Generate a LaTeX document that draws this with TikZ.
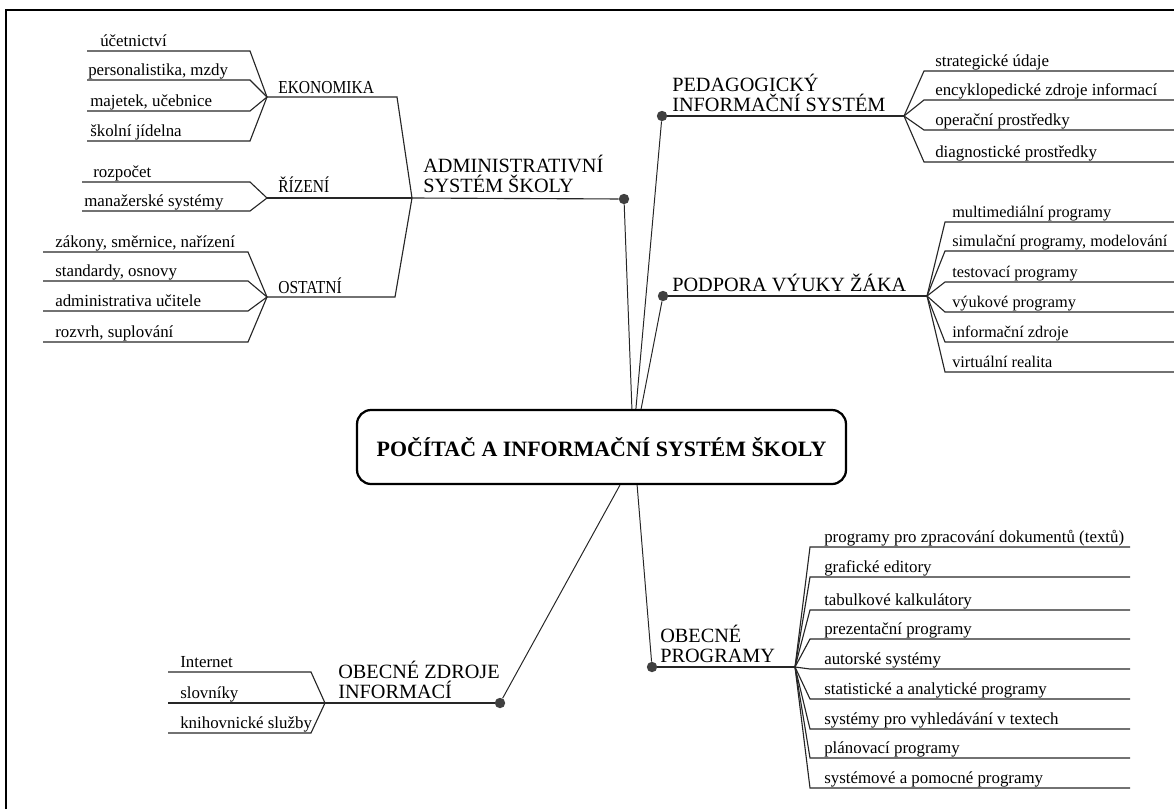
\documentclass[tikz,border=0pt]{standalone}
\usepackage{fontspec}
\setmainfont{Liberation Serif}
\newfontfamily\narrowfont[FakeStretch=0.85]{Liberation Serif}

\begin{document}
\begin{tikzpicture}[x=0.025cm, y=-0.025cm,
	twig/.style={line width=0.8pt, black!85},
	trunk/.style={line width=0.7pt, black!85},
	leaf/.style={anchor=base west, inner sep=0pt, font=\fontsize{12}{13}\selectfont},
	grouplabel/.style={anchor=base west, inner sep=0pt, font=\narrowfont\fontsize{13}{14}\selectfont},
	branchlabel/.style={anchor=south west, inner sep=0pt, align=left, font=\fontsize{14.4}{14.2}\selectfont},
	knot/.style={circle, fill=black!75, inner sep=0pt, minimum size=2.6mm},
	titlebox/.style={draw, line width=1.6pt, rounded corners=10pt, minimum width=12.22cm, minimum height=1.85cm, font=\bfseries\fontsize{15.6}{17}\selectfont}]
	\useasboundingbox (0,0) rectangle (1174,809);

	% frame
	\draw[line width=2.1pt] (6,809) -- (6,10) -- (1174,10);

	% centre
	\node[titlebox] (box) at (601.5,447) {POČÍTAČ A INFORMAČNÍ SYSTÉM ŠKOLY};

	% administrative system
	\begin{scope}
		\node[knot] (dA) at (624,199) {};
		\coordinate (jA) at (412,198);
		\node[branchlabel] (lA) at (423,193) {ADMINISTRATIVNÍ\\SYSTÉM ŠKOLY};
		\draw[twig] (jA) -- (dA);

		% economy
		\coordinate (jE) at (267,97);
		\coordinate (cE) at (397,97);
		\node[grouplabel] (lE) at (278,93) {EKONOMIKA};
		\draw[twig] (jE) -- (cE) -- (jA);
		\foreach \y/\x/\t [count=\i] in {51/100/účetnictví, 80/88/{personalistika, mzdy}, 111/90/{majetek, učebnice}, 141/90/školní jídelna} {
			\coordinate (e\i-a) at (87,\y);
			\coordinate (e\i-b) at (250,\y);
			\node[leaf] (e\i) at (\x,\y-5) {\t};
			\draw[twig] (e\i-a) -- (e\i-b) -- (jE);
		};

		% management
		\coordinate (jR) at (267,198);
		\node[grouplabel] (lR) at (278,192) {ŘÍZENÍ};
		\draw[twig] (jR) -- (jA);
		\foreach \y/\x/\t [count=\i] in {182/93/rozpočet, 211/84/manažerské systémy} {
			\coordinate (r\i-a) at (82,\y);
			\coordinate (r\i-b) at (250,\y);
			\node[leaf] (r\i) at (\x,\y-5) {\t};
			\draw[twig] (r\i-a) -- (r\i-b) -- (jR);
		};

		% other
		\coordinate (jO) at (267,297);
		\coordinate (cO) at (395,297);
		\node[grouplabel] (lO) at (278,293) {OSTATNÍ};
		\draw[twig] (jO) -- (cO) -- (jA);
		\foreach \y/\t [count=\i] in {252/{zákony, směrnice, nařízení}, 281/{standardy, osnovy}, 311/administrativa učitele, 342/{rozvrh, suplování}} {
			\coordinate (o\i-a) at (43,\y);
			\coordinate (o\i-b) at (248,\y);
			\node[leaf] (o\i) at (55,\y-5) {\t};
			\draw[twig] (o\i-a) -- (o\i-b) -- (jO);
		};
	\end{scope}

	% pedagogical system
	\begin{scope}
		\node[knot] (dP) at (662,116) {};
		\coordinate (jP) at (904,116);
		\node[branchlabel] (lP) at (672,112) {PEDAGOGICKÝ\\INFORMAČNÍ SYSTÉM};
		\draw[twig] (dP) -- (jP);
		\foreach \y/\t [count=\i] in {71/strategické údaje, 100/encyklopedické zdroje informací, 130/operační prostředky, 162/diagnostické prostředky} {
			\coordinate (p\i-a) at (924,\y);
			\coordinate (p\i-b) at (1174,\y);
			\node[leaf] (p\i) at (935,\y-5) {\t};
			\draw[twig] (jP) -- (p\i-a) -- (p\i-b);
		};
	\end{scope}

	% pupil support
	\begin{scope}[leaf/.append style={font=\fontsize{11.6}{13}\selectfont}]
		\node[knot] (dV) at (663,296) {};
		\coordinate (jV) at (927,296);
		\node[branchlabel] (lV) at (672,292) {PODPORA VÝUKY ŽÁKA};
		\draw[twig] (dV) -- (jV);
		\foreach \y/\t [count=\i] in {222/multimediální programy, 251/{simulační programy, modelování}, 282/testovací programy, 312/výukové programy, 342/informační zdroje, 372/virtuální realita} {
			\coordinate (v\i-a) at (945,\y);
			\coordinate (v\i-b) at (1174,\y);
			\node[leaf] (v\i) at (952,\y-5) {\t};
			\draw[twig] (jV) -- (v\i-a) -- (v\i-b);
		};
	\end{scope}

	% general programs
	\begin{scope}
		\node[knot] (dG) at (652,667) {};
		\coordinate (jG) at (795,667);
		\node[branchlabel] (lG) at (660,663) {OBECNÉ\\PROGRAMY};
		\draw[twig] (dG) -- (jG);
		\foreach \y/\t [count=\i] in {547/programy pro zpracování dokumentů (textů), 577/grafické editory, 610/tabulkové kalkulátory, 639/prezentační programy, 669/autorské systémy, 699/statistické a analytické programy, 729/systémy pro vyhledávání v textech, 758/plánovací programy, 788/systémové a pomocné programy} {
			\coordinate (g\i-a) at (810,\y);
			\coordinate (g\i-b) at (1130,\y);
			\node[leaf] (g\i) at (824,\y-5) {\t};
			\draw[twig] (jG) -- (g\i-a) -- (g\i-b);
		};
	\end{scope}

	% general information sources
	\begin{scope}
		\node[knot] (dZ) at (500,703) {};
		\coordinate (jZ) at (325,703);
		\node[branchlabel] (lZ) at (338,699) {OBECNÉ ZDROJE\\INFORMACÍ};
		\draw[twig] (jZ) -- (dZ);
		\foreach \y/\t [count=\i] in {672/Internet, 703/slovníky, 733/knihovnické služby} {
			\coordinate (z\i-a) at (168,\y);
			\coordinate (z\i-b) at (311,\y);
			\node[leaf] (z\i) at (180,\y-5) {\t};
			\draw[twig] (z\i-a) -- (z\i-b) -- (jZ);
		};
	\end{scope}

	% trunk
	\draw[trunk] ([xshift=0.76cm]box.north) -- (dA);
	\draw[trunk] ([xshift=0.86cm]box.north) -- (dP);
	\draw[trunk] ([xshift=0.99cm]box.north) -- (dV);
	\draw[trunk] ([xshift=0.46cm]box.south) -- (dZ);
	\draw[trunk] ([xshift=0.89cm]box.south) -- (dG);
\end{tikzpicture}
\end{document}
